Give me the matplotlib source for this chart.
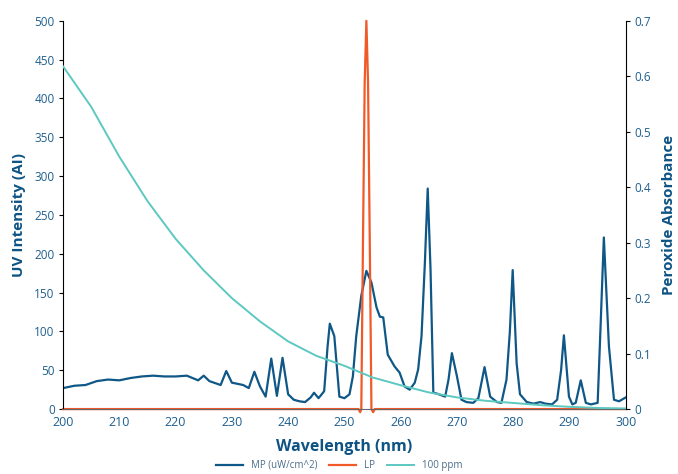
import numpy as np
import matplotlib
matplotlib.use("Agg")
import matplotlib.pyplot as plt

plt.rcParams['font.family'] = ['Open Sans', 'DejaVu Sans']

# MP lamp spectrum (uW/cm^2)
mp_nm = [200, 202, 204, 206, 208, 210, 212, 214, 216, 218, 220, 222, 224, 225,
         226, 228, 229, 230, 232, 233, 234, 235, 236, 237, 238, 239, 240, 241,
         242, 243, 244, 244.6, 245.4, 246.4, 247, 247.4, 248.2, 249.1, 250.0,
         250.9, 251.5, 252.1, 253, 253.9, 254.8, 255.7, 256.3, 256.9, 257.7,
         258.9, 259.8, 260.7, 261.6, 262.5, 263.1, 263.7, 264.3, 264.8, 265.3,
         265.8, 266.4, 267.9, 268.5, 269.1, 270, 270.8, 271.7, 272.9, 273.8,
         274.9, 275.9, 277.1, 277.9, 278.8, 279.4, 279.9, 280.6, 281.2, 282.4,
         283.6, 284.8, 285.7, 286.9, 287.8, 288.5, 289, 289.9, 290.5, 291.1,
         292, 292.9, 293.8, 295, 295.5, 296.1, 297, 297.9, 298.8, 300]
mp_val = [27, 30, 31, 36, 38, 37, 40, 42, 43, 42, 42, 43, 37, 43,
          36, 31, 49, 34, 31, 27, 48, 29, 16, 65, 17, 66, 19, 12,
          10, 9, 15, 21, 14, 23, 80, 110, 94, 16, 14,
          19, 42, 94, 146, 178, 163, 131, 119, 118, 70,
          55, 47, 29, 25, 34, 51, 94, 189, 284, 180,
          21, 20, 16, 38, 72, 42, 12, 9, 8, 14,
          54, 16, 9, 8, 38, 100, 179, 59, 19, 9,
          7, 9, 7, 6, 12, 50, 95, 16, 6, 8,
          37, 8, 6, 8, 103, 221, 81, 12, 10, 15]

# LP lamp spectrum
lp_nm = [200, 252.5, 252.8, 253.0, 253.3, 253.6, 253.9, 254.2, 254.5, 254.8,
         255.1, 255.4, 300]
lp_val = [0, 0, -4, 0, 218, 420, 500, 420, 218, 0, -4, 0, 0]

# 100 ppm peroxide absorbance
ppm_nm = [200, 205, 210, 215, 220, 225, 230, 235, 240, 245, 250, 255, 260,
          265, 270, 275, 280, 285, 290, 295, 300]
ppm_val = [0.618, 0.545, 0.455, 0.375, 0.307, 0.250, 0.200, 0.158, 0.122,
           0.096, 0.078, 0.057, 0.043, 0.030, 0.021, 0.015, 0.011, 0.007,
           0.004, 0.002, 0.001]

c_mp = '#0f5786'
c_lp = '#f05a28'
c_ppm = '#5cc8c0'
c_txt = '#1e5f8e'
c_lab = '#0d5384'

fig = plt.figure(figsize=(6.78, 4.74), dpi=100)
ax = fig.add_axes([0.093, 0.137, 0.830, 0.819])
ax2 = ax.twinx()

l1, = ax.plot(mp_nm, mp_val, color=c_mp, lw=1.6, label='MP (uW/cm^2)')
l2, = ax.plot(lp_nm, lp_val, color=c_lp, lw=1.6, label='LP', clip_on=False)
l3, = ax2.plot(ppm_nm, ppm_val, color=c_ppm, lw=1.4, label='100 ppm')

ax.set_xlim(200, 300)
ax.set_ylim(0, 500)
ax2.set_ylim(0, 0.7)
ax.set_xticks(range(200, 301, 10))
ax.set_yticks(range(0, 501, 50))
ax2.set_yticks([0, 0.1, 0.2, 0.3, 0.4, 0.5, 0.6, 0.7])
ax2.set_yticklabels(['0', '0.1', '0.2', '0.3', '0.4', '0.5', '0.6', '0.7'])

for a in (ax, ax2):
    a.spines['top'].set_visible(False)
    a.tick_params(labelsize=8.5, labelcolor=c_txt)
ax.spines['left'].set_color('black')
ax.spines['bottom'].set_color('#666666')
ax2.spines['right'].set_color('black')
ax2.spines['bottom'].set_visible(False)
ax2.spines['left'].set_visible(False)
ax.spines['right'].set_visible(False)
ax.tick_params(axis='x', length=0, pad=5, labelsize=9)
ax.tick_params(axis='y', length=3, width=0.8, pad=3)
ax2.tick_params(axis='y', length=3, width=0.8, pad=3)

ax.set_xlabel('Wavelength (nm)', fontsize=11.5, fontweight='bold', color=c_lab, labelpad=7)
ax.set_ylabel('UV Intensity (AI)', fontsize=11, fontweight='bold', color=c_lab, labelpad=6)
ax2.set_ylabel('Peroxide Absorbance', fontsize=11, fontweight='bold', color=c_lab, labelpad=8)

fig.legend(handles=[l1, l2, l3], loc='lower center', ncol=3, frameon=False,
           fontsize=7, labelcolor='#4a6d8c', bbox_to_anchor=(0.5, -0.012),
           handlelength=2.8, columnspacing=1.2)

fig.savefig('out.png', dpi=100)
